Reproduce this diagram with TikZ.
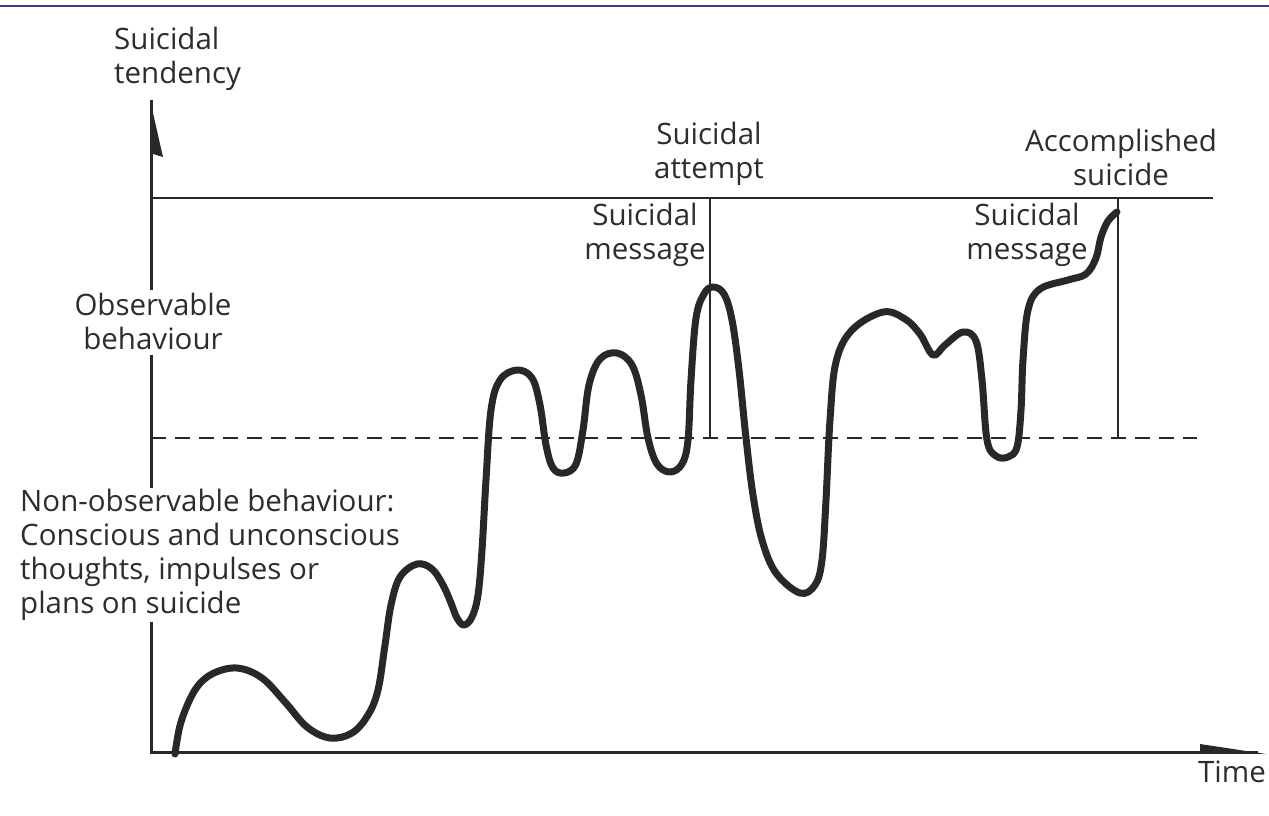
\documentclass[tikz,border=0pt]{standalone}
\usepackage{fontspec}
\setmainfont{Open Sans}
\definecolor{ink}{RGB}{40,40,40}
\definecolor{txt}{RGB}{45,45,45}
\definecolor{topblue}{RGB}{60,60,150}
\begin{document}
\begin{tikzpicture}[x=1pt,y=-1pt,
  lbl/.style={inner sep=0pt, text=txt, font=\fontsize{29.5}{34}\selectfont, align=center},
  axisline/.style={draw=ink, line width=3pt},
  thinline/.style={draw=ink, line width=1.6pt},
  dashline/.style={draw=ink, line width=2.4pt, dash pattern=on 15pt off 9pt},
  curve/.style={draw=ink, line width=7pt, line cap=round, line join=round}]
\useasboundingbox (0,0) rectangle (1269,815);
\fill[white] (0,0) rectangle (1269,815);
\draw[topblue, line width=2pt] (0,6) -- (1269,6);

% coordinates
\coordinate (ytip) at (151,100);
\coordinate (yb1) at (151,290);
\coordinate (yt2) at (151,355);
\coordinate (yb2) at (151,488);
\coordinate (yt3) at (151,622);
\coordinate (origin) at (151,752);
\coordinate (xend) at (1258,752);
\coordinate (topL) at (151,198);
\coordinate (topR) at (1213,198);
\coordinate (dashL) at (151,438);
\coordinate (dashR) at (1197,438);
\coordinate (attT) at (710,198);
\coordinate (attB) at (710,438);
\coordinate (accT) at (1118,198);
\coordinate (accB) at (1118,438);

% axes
\draw[axisline] (ytip) -- (yb1);
\draw[axisline] (yt2) -- (yb2);
\draw[axisline] (yt3) -- (origin) -- (xend);
\fill[ink] (150,100) -- (163,157) -- (150,153) -- cycle;
\fill[ink] (1200,744) -- (1266,754) -- (1200,753) -- cycle;

% reference lines
\draw[thinline] (topL) -- (topR);
\draw[dashline] (dashL) -- (dashR);
\draw[thinline] (attT) -- (attB);
\draw[thinline] (accT) -- (accB);

% curve
\draw[curve] plot[smooth, tension=0.6] coordinates {
(175,754) (181,722) (195,690) (212,674) (237,668) (262,678) (285,702) (307,727) (330,738) (352,733) (368,715)
(378,690) (385,645) (391,605) (400,577) (417,564) (432,569) (443,585) (451,603) (457,618) (464,625) (472,617) (478,595)
(482,550) (486,480) (491,410) (500,380) (517,370) (532,378) (540,405) (546,445) (553,468) (564,473) (576,464)
(583,430) (589,385) (600,359) (617,353) (632,365) (641,395) (648,438) (657,464) (670,472) (682,464) (688,440)
(691,380) (696,318) (704,294) (713,287) (724,294) (732,320) (739,370) (746,438) (753,495) (762,540) (776,573)
(800,593) (815,585) (822,560) (826,500) (830,420) (836,362) (852,330) (883,312) (905,319) (920,334) (933,355)
(945,345) (963,332) (976,341) (982,380) (987,440) (996,456) (1008,457) (1017,447) (1021,410) (1023,360)
(1028,310) (1040,289) (1068,280) (1086,274) (1096,258) (1101,237) (1108,221) (1117,212)};

% labels
\node[lbl, align=left, anchor=north west] (ylab) at (114,27) {Suicidal\\tendency};
\node[lbl, anchor=south] (attempt) at (709,186) {Suicidal\\attempt};
\node[lbl, anchor=south] (accomp) at (1121,186) {Accomplished\\suicide};
\node[lbl, anchor=north] (msg1) at (645,203) {Suicidal\\message};
\node[lbl, anchor=north] (msg2) at (1027,203) {Suicidal\\message};
\node[lbl] (obs) at (153,321) {Observable\\behaviour};
\node[lbl, align=left, anchor=north west] (nonobs) at (20,489) {Non-observable behaviour:\\Conscious and unconscious\\thoughts, impulses or\\plans on suicide};
\node[lbl, anchor=north east] (time) at (1266,761) {Time};
\end{tikzpicture}
\end{document}
